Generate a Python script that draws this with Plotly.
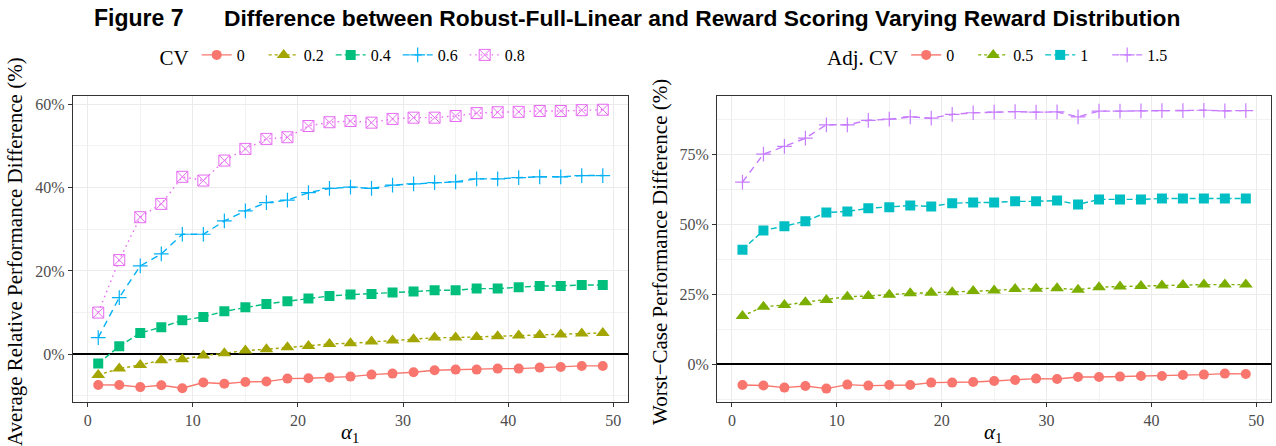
import plotly.graph_objects as go

# alpha_1 grid shared by both panels
alpha1 = list(range(1, 50, 2))

# Left panel: average relative performance difference (%) by CV
cv_labels = ["0", "0.2", "0.4", "0.6", "0.8"]
cv_0 = [-7.37, -7.4, -7.9, -7.45, -8.17, -6.8, -7.1, -6.65, -6.57, -5.85, -5.77, -5.6, -5.37,
        -4.89, -4.65, -4.33, -3.85, -3.69, -3.69, -3.45, -3.45, -3.21, -3.05, -2.81, -2.81]
cv_02 = [-4.97, -3.45, -2.57, -1.45, -1.2, -0.33, 0.23, 0.87, 1.19, 1.67, 1.99, 2.47, 2.63,
         3.03, 3.27, 3.59, 3.99, 3.99, 4.15, 4.31, 4.47, 4.63, 4.71, 4.95, 5.11]
cv_04 = [-2.25, 1.91, 5.11, 6.47, 8.15, 8.95, 10.31, 11.27, 12.07, 12.71, 13.35, 13.99, 14.31,
         14.47, 14.79, 15.03, 15.35, 15.35, 15.75, 15.75, 16.07, 16.39, 16.39, 16.63, 16.63]
cv_06 = [4.0, 13.6, 21.2, 24.1, 28.8, 28.8, 32.0, 34.4, 36.4, 37.0, 38.8, 39.8, 40.1,
         39.8, 40.6, 40.9, 41.2, 41.4, 42.1, 42.1, 42.4, 42.6, 42.6, 42.9, 42.9]
cv_08 = [10.0, 22.6, 32.9, 36.1, 42.6, 41.7, 46.5, 49.3, 51.7, 52.1, 54.8, 55.7, 56.0,
         55.6, 56.5, 56.8, 56.8, 57.2, 57.9, 58.1, 58.2, 58.4, 58.4, 58.6, 58.7]

# Right panel: worst-case performance difference (%) by adjusted CV
adj_labels = ["0", "0.5", "1", "1.5"]
adj_0 = [-7.4, -7.6, -8.35, -7.76, -8.71, -7.28, -7.64, -7.4, -7.4, -6.57, -6.57, -6.33, -5.97,
         -5.61, -5.13, -5.25, -4.54, -4.54, -4.42, -4.18, -4.18, -3.82, -3.7, -3.34, -3.46]
adj_05 = [17.3, 20.6, 21.2, 22.2, 23.0, 24.2, 24.4, 24.9, 25.4, 25.6, 25.8, 26.2, 26.4,
          26.9, 27.0, 27.2, 26.7, 27.6, 27.8, 28.0, 28.2, 28.4, 28.5, 28.5, 28.5]
adj_1 = [41.0, 47.9, 49.4, 51.2, 54.3, 54.7, 55.8, 56.2, 56.8, 56.5, 57.6, 57.9, 57.9,
         58.3, 58.3, 58.6, 57.2, 59.0, 59.0, 59.0, 59.3, 59.3, 59.3, 59.3, 59.3]
adj_15 = [65.2, 75.2, 78.0, 80.9, 85.7, 85.7, 87.3, 87.7, 88.5, 88.1, 89.4, 90.0, 90.2,
          90.4, 90.2, 90.3, 88.5, 90.6, 90.6, 90.7, 90.8, 90.8, 90.9, 90.7, 90.8]

W, H = 1276, 446
SERIF = "Liberation Serif, Times New Roman, serif"
SANS = "Liberation Sans, Arial, sans-serif"
TICK_GREY = "#4D4D4D"


def px_x(v):
    return v / W


def px_y(v):
    return 1 - v / H


fig = go.Figure()

left_styles = [
    dict(color="#F8766D", symbol="circle", size=10, dash="solid", lw=0),
    dict(color="#A3A500", symbol="triangle-up", size=12, dash="3px,3px", lw=0),
    dict(color="#00BF7D", symbol="square", size=10, dash="6px,3px", lw=0),
    dict(color="#00B0F6", symbol="cross-thin", size=10.5, dash="7px,5px", lw=1.2),
    dict(color="#E76BF3", symbol="square-x-open", size=11, dash="1.5px,4px", lw=1),
]
for name, ys, st in zip(cv_labels, [cv_0, cv_02, cv_04, cv_06, cv_08], left_styles):
    fig.add_trace(go.Scatter(
        x=alpha1, y=ys, name=name, mode="lines+markers",
        line=dict(color=st["color"], width=1.4, dash=st["dash"]),
        marker=dict(color=st["color"], symbol=st["symbol"], size=st["size"],
                    line=dict(color=st["color"], width=st["lw"])),
        xaxis="x", yaxis="y", legend="legend",
    ))

right_styles = [
    dict(color="#F8766D", symbol="circle", size=10, dash="solid", lw=0),
    dict(color="#7CAE00", symbol="triangle-up", size=12, dash="3px,3px", lw=0),
    dict(color="#00BFC4", symbol="square", size=10, dash="6px,3px", lw=0),
    dict(color="#C77CFF", symbol="cross-thin", size=10.5, dash="7px,5px", lw=1.2),
]
for name, ys, st in zip(adj_labels, [adj_0, adj_05, adj_1, adj_15], right_styles):
    fig.add_trace(go.Scatter(
        x=alpha1, y=ys, name=name, mode="lines+markers",
        line=dict(color=st["color"], width=1.4, dash=st["dash"]),
        marker=dict(color=st["color"], symbol=st["symbol"], size=st["size"],
                    line=dict(color=st["color"], width=st["lw"])),
        xaxis="x2", yaxis="y2", legend="legend2",
    ))

y_dom = [px_y(401.7), px_y(96)]

common_axis = dict(
    showline=True, mirror=True, linecolor="#333333", linewidth=1.3,
    ticks="outside", ticklen=4, tickcolor="#333333", tickwidth=1,
    tickfont=dict(family=SERIF, size=16, color=TICK_GREY),
    showgrid=True, gridcolor="#EBEBEB", gridwidth=1.1,
)
minor_grid = dict(showgrid=True, gridcolor="#F2F2F2", gridwidth=0.6, ticks="")

fig.update_layout(
    width=W, height=H,
    margin=dict(l=0, r=0, t=0, b=0),
    paper_bgcolor="white", plot_bgcolor="white",
    font=dict(family=SERIF, color="black"),
    xaxis=dict(domain=[px_x(73), px_x(628)], range=[-1.4, 51.4], anchor="y",
               tickvals=[0, 10, 20, 30, 40, 50], zeroline=False,
               minor=dict(tickvals=[5, 15, 25, 35, 45], **minor_grid),
               **common_axis),
    yaxis=dict(domain=y_dom, range=[-11.4, 62.0], anchor="x",
               tickvals=[0, 20, 40, 60], ticktext=["0%", "20%", "40%", "60%"],
               zeroline=True, zerolinecolor="black", zerolinewidth=1.5,
               minor=dict(tickvals=[-10, 10, 30, 50], **minor_grid),
               **common_axis),
    xaxis2=dict(domain=[px_x(717.3), px_x(1271)], range=[-1.4, 51.4], anchor="y2",
                tickvals=[0, 10, 20, 30, 40, 50], zeroline=False,
                minor=dict(tickvals=[5, 15, 25, 35, 45], **minor_grid),
                **common_axis),
    yaxis2=dict(domain=y_dom, range=[-13.4, 96.0], anchor="x2",
                tickvals=[0, 25, 50, 75], ticktext=["0%", "25%", "50%", "75%"],
                zeroline=True, zerolinecolor="black", zerolinewidth=1.5,
                minor=dict(tickvals=[-12.5, 12.5, 37.5, 62.5, 87.5], **minor_grid),
                **common_axis),
    legend=dict(
        orientation="h", x=px_x(345), xanchor="center", y=px_y(57), yanchor="middle",
        title=dict(text="CV", font=dict(family=SERIF, size=21)),
        font=dict(family=SERIF, size=16), bgcolor="rgba(0,0,0,0)",
        itemwidth=30, tracegroupgap=0, entrywidth=22, entrywidthmode="pixels",
    ),
    legend2=dict(
        orientation="h", x=px_x(1000), xanchor="center", y=px_y(57), yanchor="middle",
        title=dict(text="Adj. CV", font=dict(family=SERIF, size=21)),
        font=dict(family=SERIF, size=16), bgcolor="rgba(0,0,0,0)",
        itemwidth=30, tracegroupgap=0, entrywidth=22, entrywidthmode="pixels",
    ),
    showlegend=True,
)

annotations = [
    dict(text="<b>Figure 7</b>", x=px_x(92), y=px_y(18), xanchor="left", yanchor="middle",
         font=dict(family=SANS, size=23, color="black")),
    dict(text="<b>Difference between Robust-Full-Linear and Reward Scoring Varying Reward Distribution</b>",
         x=px_x(222), y=px_y(18), xanchor="left", yanchor="middle",
         font=dict(family=SANS, size=22.8, color="black")),
    dict(text="Average Relative Performance Difference (%)", x=px_x(15), y=px_y(252),
         textangle=-90, xanchor="center", yanchor="middle",
         font=dict(family=SERIF, size=21, color="black")),
    dict(text="Worst\u2212Case Performance Difference (%)", x=px_x(660), y=px_y(252),
         textangle=-90, xanchor="center", yanchor="middle",
         font=dict(family=SERIF, size=21, color="black")),
    dict(text="<i>\u03b1</i><sub>1</sub>", x=px_x(350), y=px_y(433),
         xanchor="center", yanchor="middle",
         font=dict(family=SERIF, size=21, color="black")),
    dict(text="<i>\u03b1</i><sub>1</sub>", x=px_x(993), y=px_y(433),
         xanchor="center", yanchor="middle",
         font=dict(family=SERIF, size=21, color="black")),
]
for a in annotations:
    a.update(xref="paper", yref="paper", showarrow=False)
fig.update_layout(annotations=annotations)

fig.write_html("out.html")
